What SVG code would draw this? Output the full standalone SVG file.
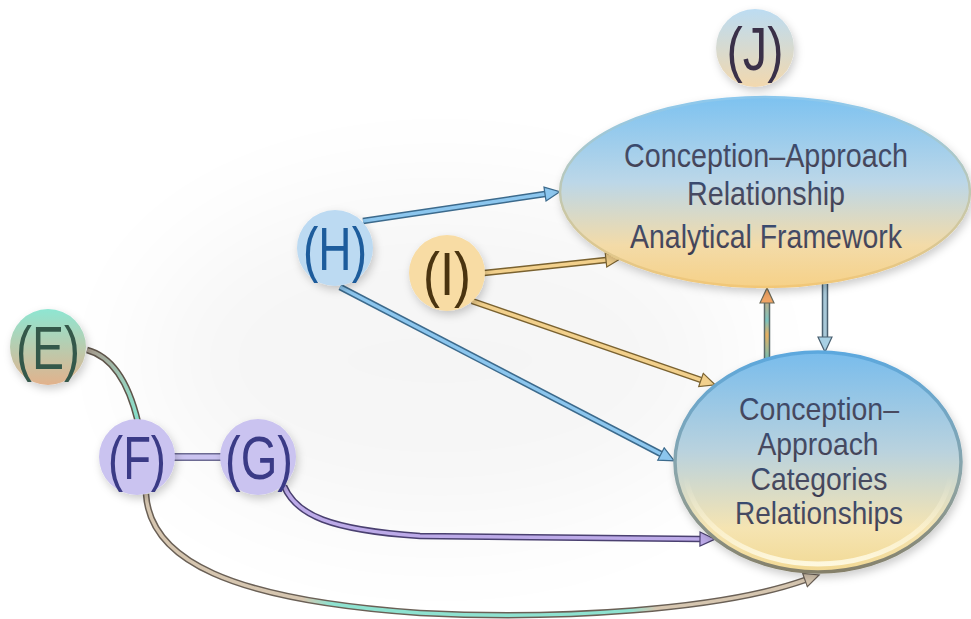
<svg xmlns="http://www.w3.org/2000/svg" width="971" height="619" viewBox="0 0 971 619">
  <defs>
    <style>
      .lbl { font-family: "Liberation Sans", Arial, sans-serif; text-anchor: middle; }
      .big { font-size: 62px; }
      .body { font-size: 34px; fill: url(#gText); }
      .out { fill: none; stroke-width: 6.5; stroke-linecap: butt; }
      .in { fill: none; stroke-width: 3.5; stroke-linecap: butt; }
    </style>

    <filter id="shadow" x="-20%" y="-20%" width="140%" height="150%">
      <feDropShadow dx="2" dy="4" stdDeviation="4" flood-color="#000" flood-opacity="0.2"/>
    </filter>
    <filter id="haze" x="-50%" y="-50%" width="200%" height="200%">
      <feGaussianBlur stdDeviation="60"/>
    </filter>

    <linearGradient id="gFrame" x1="0" y1="0" x2="0" y2="1">
      <stop offset="0" stop-color="#7dc2f0"/>
      <stop offset="0.45" stop-color="#bcd7e8"/>
      <stop offset="0.78" stop-color="#f3dba8"/>
      <stop offset="1" stop-color="#f6d188"/>
    </linearGradient>
    <linearGradient id="gFrameRim" x1="0" y1="0" x2="0" y2="1">
      <stop offset="0" stop-color="#8cc8ee"/>
      <stop offset="1" stop-color="#f2c777"/>
    </linearGradient>
    <linearGradient id="gCat" x1="0" y1="0" x2="0" y2="1">
      <stop offset="0" stop-color="#78bcec"/>
      <stop offset="0.45" stop-color="#b9d2de"/>
      <stop offset="0.8" stop-color="#f5e4b2"/>
      <stop offset="1" stop-color="#f2d994"/>
    </linearGradient>
    <linearGradient id="gCatRim" x1="0" y1="0" x2="0" y2="1">
      <stop offset="0" stop-color="#5ca8de"/>
      <stop offset="0.6" stop-color="#8ea4a4"/>
      <stop offset="1" stop-color="#85806a"/>
    </linearGradient>
    <linearGradient id="gCatGlow" x1="0" y1="0" x2="0" y2="1">
      <stop offset="0" stop-color="#fff8dc" stop-opacity="0"/>
      <stop offset="0.55" stop-color="#fff8dc" stop-opacity="0"/>
      <stop offset="1" stop-color="#fffbe6" stop-opacity="0.9"/>
    </linearGradient>
    <linearGradient id="gText" x1="0" y1="0" x2="0" y2="1">
      <stop offset="0" stop-color="#2e4a7a"/>
      <stop offset="0.6" stop-color="#4a4a5e"/>
      <stop offset="1" stop-color="#3a3a50"/>
    </linearGradient>
    <linearGradient id="gE" x1="0" y1="0" x2="0" y2="1">
      <stop offset="0" stop-color="#8ee6d2"/>
      <stop offset="1" stop-color="#e2b28c"/>
    </linearGradient>
    <linearGradient id="gJ" x1="0" y1="0" x2="0" y2="1">
      <stop offset="0" stop-color="#bcdcf2"/>
      <stop offset="1" stop-color="#f2d8ae"/>
    </linearGradient>
    <linearGradient id="gEF" gradientUnits="userSpaceOnUse" x1="87" y1="350" x2="138" y2="422">
      <stop offset="0" stop-color="#a89c8e"/>
      <stop offset="0.5" stop-color="#9ccab8"/>
      <stop offset="1" stop-color="#86e2cc"/>
    </linearGradient>
    <linearGradient id="gFC" gradientUnits="userSpaceOnUse" x1="140" y1="0" x2="820" y2="0">
      <stop offset="0" stop-color="#d6c6b0"/>
      <stop offset="0.24" stop-color="#d6c6b0"/>
      <stop offset="0.28" stop-color="#8ee2d0"/>
      <stop offset="0.72" stop-color="#8ee2d0"/>
      <stop offset="0.76" stop-color="#d6c6b0"/>
      <stop offset="1" stop-color="#d6c6b0"/>
    </linearGradient>
    <linearGradient id="gUp" gradientUnits="userSpaceOnUse" x1="0" y1="360" x2="0" y2="288">
      <stop offset="0" stop-color="#6fc0b8"/>
      <stop offset="0.35" stop-color="#e8b060"/>
      <stop offset="0.55" stop-color="#7cc4c0"/>
      <stop offset="1" stop-color="#f0a060"/>
    </linearGradient>

    <!-- arrowheads: ref point at the base, tip 15 units forward -->
    <marker id="aH" markerUnits="userSpaceOnUse" markerWidth="18" markerHeight="18" refX="1" refY="8" orient="auto">
      <path d="M1,1 L16,8 L1,15 Z" fill="#8cc6ee" stroke="#3c6a8c" stroke-width="1.2"/>
    </marker>
    <marker id="aI" markerUnits="userSpaceOnUse" markerWidth="18" markerHeight="18" refX="1" refY="8" orient="auto">
      <path d="M1,1 L16,8 L1,15 Z" fill="#f2d08c" stroke="#7a6230" stroke-width="1.2"/>
    </marker>
    <marker id="aG" markerUnits="userSpaceOnUse" markerWidth="18" markerHeight="18" refX="1" refY="8" orient="auto">
      <path d="M1,1 L16,8 L1,15 Z" fill="#bcaae8" stroke="#4a4070" stroke-width="1.2"/>
    </marker>
    <marker id="aF" markerUnits="userSpaceOnUse" markerWidth="18" markerHeight="18" refX="1" refY="8" orient="auto">
      <path d="M1,1 L16,8 L1,15 Z" fill="#d6c6b0" stroke="#6a6056" stroke-width="1.2"/>
    </marker>
    <marker id="aUp" markerUnits="userSpaceOnUse" markerWidth="18" markerHeight="18" refX="1" refY="8" orient="auto">
      <path d="M1,1 L16,8 L1,15 Z" fill="#f0a464" stroke="#6a6a5a" stroke-width="1.2"/>
    </marker>
    <marker id="aDown" markerUnits="userSpaceOnUse" markerWidth="18" markerHeight="18" refX="1" refY="8" orient="auto">
      <path d="M1,1 L16,8 L1,15 Z" fill="#a8d0e4" stroke="#4a6070" stroke-width="1.2"/>
    </marker>
  </defs>

  <rect width="971" height="619" fill="#ffffff"/>
  <!-- faint grey backdrop behind the drawing -->
  <ellipse cx="440" cy="360" rx="300" ry="170" fill="#000" opacity="0.035" filter="url(#haze)"/>

  <g id="connectors">
    <!-- E to F -->
    <path class="out" d="M87,350 C110,356 128,380 138,422" stroke="#5e544a"/>
    <path class="in" d="M87,350 C110,356 128,380 138,422" stroke="url(#gEF)"/>
    <!-- F to G -->
    <path d="M173,457 L222,457" stroke="#6c6a92" stroke-width="8" fill="none"/>
    <path d="M173,457 L222,457" stroke="#cac3f0" stroke-width="5" fill="none"/>
    <!-- G to categories -->
    <path class="out" d="M284,486 C296,515 330,530 420,536 L700,539" stroke="#4a4070"/>
    <path class="in" d="M284,486 C296,515 330,530 420,536 L700,539" stroke="#bcaae8" marker-end="url(#aG)"/>
    <!-- F to categories -->
    <path class="out" d="M146,494 C150,560 230,600 420,613 C560,620 720,610 805,580" stroke="#6a6056"/>
    <path class="in" d="M146,494 C150,560 230,600 420,613 C560,620 720,610 805,580" stroke="url(#gFC)" marker-end="url(#aF)"/>
    <!-- H to framework -->
    <path class="out" d="M363,221 L545,194" stroke="#3c6a8c"/>
    <path class="in" d="M363,221 L545,194" stroke="#8cc6ee" marker-end="url(#aH)"/>
    <!-- H to categories -->
    <path class="out" d="M340,287 L661,454" stroke="#3c6a8c"/>
    <path class="in" d="M340,287 L661,454" stroke="#8cc6ee" marker-end="url(#aH)"/>
    <!-- I to framework -->
    <path class="out" d="M484,273 L606,260" stroke="#7a6230"/>
    <path class="in" d="M484,273 L606,260" stroke="#f2d08c" marker-end="url(#aI)"/>
    <!-- I to categories -->
    <path class="out" d="M472,301 L701,380" stroke="#7a6230"/>
    <path class="in" d="M472,301 L701,380" stroke="#f2d08c" marker-end="url(#aI)"/>
    <!-- categories up to framework -->
    <path class="out" d="M767,360 L767,303" stroke="#5a6a6a"/>
    <path class="in" d="M767,360 L767,303" stroke="url(#gUp)" marker-end="url(#aUp)"/>
    <!-- framework down to categories -->
    <path class="out" d="M825,284 L825,337" stroke="#4a6070"/>
    <path class="in" d="M825,284 L825,337" stroke="#a8c8d8" marker-end="url(#aDown)"/>
  </g>

  <g id="framework">
    <ellipse cx="765" cy="192" rx="205" ry="95" fill="url(#gFrame)" stroke="url(#gFrameRim)" stroke-width="2.5" filter="url(#shadow)"/>
    <text class="lbl body" x="766" y="167" textLength="284" lengthAdjust="spacingAndGlyphs">Conception–Approach</text>
    <text class="lbl body" x="766" y="205" textLength="158" lengthAdjust="spacingAndGlyphs">Relationship</text>
    <text class="lbl body" x="766" y="248" textLength="272" lengthAdjust="spacingAndGlyphs">Analytical Framework</text>
  </g>

  <g id="categories">
    <ellipse cx="818" cy="462" rx="143" ry="110" fill="url(#gCat)" stroke="url(#gCatRim)" stroke-width="3.5" filter="url(#shadow)"/>
    <ellipse cx="818" cy="466" rx="133" ry="98" fill="none" stroke="url(#gCatGlow)" stroke-width="5"/>
    <text class="lbl body" x="819" y="420" style="font-size:32px" textLength="160" lengthAdjust="spacingAndGlyphs">Conception–</text>
    <text class="lbl body" x="818" y="455" style="font-size:32px" textLength="121" lengthAdjust="spacingAndGlyphs">Approach</text>
    <text class="lbl body" x="819" y="490" style="font-size:32px" textLength="137" lengthAdjust="spacingAndGlyphs">Categories</text>
    <text class="lbl body" x="819" y="524" style="font-size:32px" textLength="168" lengthAdjust="spacingAndGlyphs">Relationships</text>
  </g>

  <g id="node-e">
    <circle cx="48" cy="347" r="38" fill="url(#gE)" filter="url(#shadow)"/>
    <text class="lbl big" x="48" y="369" fill="#34584a" textLength="64" lengthAdjust="spacingAndGlyphs">(E)</text>
  </g>
  <g id="node-f">
    <circle cx="137" cy="457" r="38" fill="#cac3f0" filter="url(#shadow)"/>
    <text class="lbl big" x="137" y="479" fill="#3a3a86" textLength="58" lengthAdjust="spacingAndGlyphs">(F)</text>
  </g>
  <g id="node-g">
    <circle cx="258" cy="457" r="38" fill="#cac3f0" filter="url(#shadow)"/>
    <text class="lbl big" x="259" y="479" fill="#3a3a86" textLength="68" lengthAdjust="spacingAndGlyphs">(G)</text>
  </g>
  <g id="node-h">
    <circle cx="335" cy="248" r="38" fill="#bcdaf2" filter="url(#shadow)"/>
    <text class="lbl big" x="335" y="270" fill="#1d5c9c" textLength="64" lengthAdjust="spacingAndGlyphs">(H)</text>
  </g>
  <g id="node-i">
    <circle cx="447" cy="273" r="38" fill="#f8dca4" filter="url(#shadow)"/>
    <text class="lbl big" x="447" y="295" fill="#4a3410" textLength="48" lengthAdjust="spacingAndGlyphs">(I)</text>
  </g>
  <g id="node-j">
    <circle cx="755" cy="48" r="39" fill="url(#gJ)" filter="url(#shadow)"/>
    <text class="lbl big" x="755" y="70" fill="#3a3048" textLength="57" lengthAdjust="spacingAndGlyphs">(J)</text>
  </g>
</svg>
